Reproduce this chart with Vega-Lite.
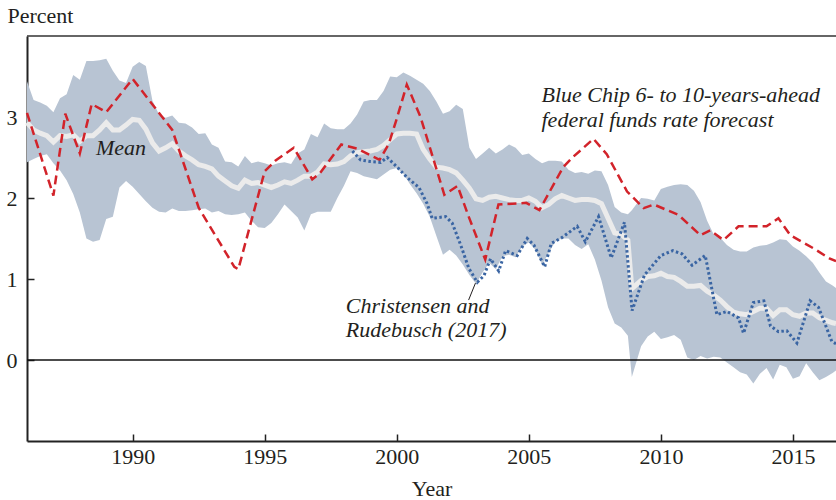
{
  "$schema": "https://vega.github.io/schema/vega-lite/v6.json",
  "width": 809,
  "height": 405,
  "autosize": {"type": "none"},
  "padding": {"left": 27, "top": 36, "right": 0, "bottom": 59},
  "config": {
    "view": {"stroke": null},
    "font": "Liberation Serif",
    "axis": {"grid": false, "zindex": 1, "ticks": true, "labelFont": "Liberation Serif", "labelFontSize": 22, "labelColor": "#231f20", "titleFont": "Liberation Serif", "titleFontSize": 22, "titleFontWeight": "normal", "titleColor": "#231f20", "domainColor": "#222222", "domainWidth": 2, "tickColor": "#222222", "tickWidth": 1.5}
  },
  "datasets": {
    "q": [
      {"t":1986.00,"hi":3.44,"lo":2.44,"m":2.93},{"t":1986.25,"hi":3.21,"lo":2.48,"m":2.84},{"t":1986.50,"hi":3.18,"lo":2.52,"m":2.80},{"t":1986.75,"hi":3.14,"lo":2.54,"m":2.77},
      {"t":1987.00,"hi":3.06,"lo":2.43,"m":2.69},{"t":1987.25,"hi":3.23,"lo":2.34,"m":2.77},{"t":1987.50,"hi":3.28,"lo":2.22,"m":2.76},{"t":1987.75,"hi":3.52,"lo":2.05,"m":2.78},
      {"t":1988.00,"hi":3.46,"lo":1.82,"m":2.70},{"t":1988.25,"hi":3.69,"lo":1.50,"m":2.77},{"t":1988.50,"hi":3.69,"lo":1.46,"m":2.77},{"t":1988.75,"hi":3.70,"lo":1.48,"m":2.84},
      {"t":1989.00,"hi":3.72,"lo":1.74,"m":2.93},{"t":1989.25,"hi":3.57,"lo":1.77,"m":2.84},{"t":1989.50,"hi":3.45,"lo":2.13,"m":2.84},{"t":1989.75,"hi":3.42,"lo":2.21,"m":2.90},
      {"t":1990.00,"hi":3.62,"lo":2.14,"m":2.97},{"t":1990.25,"hi":3.68,"lo":2.05,"m":2.96},{"t":1990.50,"hi":3.63,"lo":1.96,"m":2.85},{"t":1990.75,"hi":3.20,"lo":1.88,"m":2.68},
      {"t":1991.00,"hi":3.03,"lo":1.83,"m":2.58},{"t":1991.25,"hi":2.99,"lo":1.82,"m":2.62},{"t":1991.50,"hi":3.02,"lo":1.87,"m":2.67},{"t":1991.75,"hi":2.93,"lo":1.84,"m":2.58},
      {"t":1992.00,"hi":2.92,"lo":1.84,"m":2.52},{"t":1992.25,"hi":2.87,"lo":1.85,"m":2.47},{"t":1992.50,"hi":2.79,"lo":1.86,"m":2.41},{"t":1992.75,"hi":2.80,"lo":1.87,"m":2.39},
      {"t":1993.00,"hi":2.66,"lo":1.82,"m":2.36},{"t":1993.25,"hi":2.62,"lo":1.84,"m":2.27},{"t":1993.50,"hi":2.45,"lo":1.80,"m":2.21},{"t":1993.75,"hi":2.44,"lo":1.79,"m":2.15},
      {"t":1994.00,"hi":2.39,"lo":1.80,"m":2.12},{"t":1994.25,"hi":2.52,"lo":1.82,"m":2.22},{"t":1994.50,"hi":2.43,"lo":1.72,"m":2.18},{"t":1994.75,"hi":2.45,"lo":1.64,"m":2.19},
      {"t":1995.00,"hi":2.43,"lo":1.63,"m":2.16},{"t":1995.25,"hi":2.40,"lo":1.69,"m":2.13},{"t":1995.50,"hi":2.43,"lo":1.80,"m":2.16},{"t":1995.75,"hi":2.44,"lo":1.92,"m":2.20},
      {"t":1996.00,"hi":2.42,"lo":1.84,"m":2.18},{"t":1996.25,"hi":2.55,"lo":1.76,"m":2.22},{"t":1996.50,"hi":2.60,"lo":1.60,"m":2.27},{"t":1996.75,"hi":2.79,"lo":1.80,"m":2.27},
      {"t":1997.00,"hi":2.75,"lo":1.83,"m":2.32},{"t":1997.25,"hi":2.92,"lo":1.83,"m":2.42},{"t":1997.50,"hi":2.86,"lo":1.83,"m":2.41},{"t":1997.75,"hi":2.85,"lo":2.00,"m":2.42},
      {"t":1998.00,"hi":2.85,"lo":2.15,"m":2.45},{"t":1998.25,"hi":2.92,"lo":2.33,"m":2.52},{"t":1998.50,"hi":3.03,"lo":2.31,"m":2.56},{"t":1998.75,"hi":3.19,"lo":2.27,"m":2.57},
      {"t":1999.00,"hi":3.21,"lo":2.25,"m":2.58},{"t":1999.25,"hi":3.21,"lo":2.23,"m":2.60},{"t":1999.50,"hi":3.32,"lo":2.29,"m":2.65},{"t":1999.75,"hi":3.50,"lo":2.35,"m":2.72},
      {"t":2000.00,"hi":3.49,"lo":2.37,"m":2.79},{"t":2000.25,"hi":3.55,"lo":2.30,"m":2.80},{"t":2000.50,"hi":3.51,"lo":2.17,"m":2.80},{"t":2000.75,"hi":3.46,"lo":2.06,"m":2.79},
      {"t":2001.00,"hi":3.41,"lo":1.93,"m":2.60},{"t":2001.25,"hi":3.32,"lo":1.77,"m":2.48},{"t":2001.50,"hi":3.19,"lo":1.53,"m":2.38},{"t":2001.75,"hi":3.04,"lo":1.30,"m":2.37},
      {"t":2002.00,"hi":3.07,"lo":1.36,"m":2.35},{"t":2002.25,"hi":3.15,"lo":1.29,"m":2.31},{"t":2002.50,"hi":3.10,"lo":1.18,"m":2.22},{"t":2002.75,"hi":2.62,"lo":1.05,"m":2.12},
      {"t":2003.00,"hi":2.48,"lo":0.94,"m":1.99},{"t":2003.25,"hi":2.55,"lo":1.08,"m":1.97},{"t":2003.50,"hi":2.62,"lo":1.20,"m":2.01},{"t":2003.75,"hi":2.55,"lo":1.12,"m":2.02},
      {"t":2004.00,"hi":2.60,"lo":1.28,"m":2.00},{"t":2004.25,"hi":2.66,"lo":1.30,"m":1.98},{"t":2004.50,"hi":2.62,"lo":1.27,"m":1.97},{"t":2004.75,"hi":2.53,"lo":1.40,"m":1.97},
      {"t":2005.00,"hi":2.55,"lo":1.45,"m":2.00},{"t":2005.25,"hi":2.48,"lo":1.36,"m":1.96},{"t":2005.50,"hi":2.43,"lo":1.18,"m":1.88},{"t":2005.75,"hi":2.46,"lo":1.32,"m":1.92},
      {"t":2006.00,"hi":2.46,"lo":1.46,"m":1.99},{"t":2006.25,"hi":2.45,"lo":1.50,"m":2.03},{"t":2006.50,"hi":2.35,"lo":1.50,"m":2.00},{"t":2006.75,"hi":2.31,"lo":1.42,"m":1.97},
      {"t":2007.00,"hi":2.32,"lo":1.37,"m":1.98},{"t":2007.25,"hi":2.30,"lo":1.43,"m":1.98},{"t":2007.50,"hi":2.34,"lo":1.24,"m":1.97},{"t":2007.75,"hi":2.33,"lo":0.98,"m":1.93},
      {"t":2008.00,"hi":2.16,"lo":0.65,"m":1.75},{"t":2008.25,"hi":1.89,"lo":0.45,"m":1.57},{"t":2008.50,"hi":1.82,"lo":0.40,"m":1.55},{"t":2008.75,"hi":1.80,"lo":0.30,"m":1.48},
      {"t":2008.90,"hi":1.85,"lo":-0.21,"m":0.88},{"t":2009.25,"hi":2.00,"lo":0.17,"m":0.98},{"t":2009.50,"hi":1.99,"lo":0.29,"m":1.03},{"t":2009.75,"hi":1.97,"lo":0.35,"m":1.04},
      {"t":2010.00,"hi":2.11,"lo":0.26,"m":1.07},{"t":2010.25,"hi":2.14,"lo":0.28,"m":1.03},{"t":2010.50,"hi":2.16,"lo":0.31,"m":1.02},{"t":2010.75,"hi":2.17,"lo":0.25,"m":0.97},
      {"t":2011.00,"hi":2.16,"lo":0.03,"m":0.91},{"t":2011.25,"hi":2.09,"lo":0.00,"m":0.91},{"t":2011.50,"hi":1.95,"lo":0.05,"m":0.92},{"t":2011.75,"hi":1.72,"lo":0.02,"m":0.85},
      {"t":2012.00,"hi":1.55,"lo":0.04,"m":0.80},{"t":2012.25,"hi":1.51,"lo":0.03,"m":0.74},{"t":2012.50,"hi":1.42,"lo":-0.03,"m":0.66},{"t":2012.75,"hi":1.36,"lo":-0.09,"m":0.59},
      {"t":2013.00,"hi":1.34,"lo":-0.15,"m":0.57},{"t":2013.25,"hi":1.34,"lo":-0.18,"m":0.56},{"t":2013.50,"hi":1.39,"lo":-0.29,"m":0.60},{"t":2013.75,"hi":1.41,"lo":-0.17,"m":0.64},
      {"t":2014.00,"hi":1.42,"lo":-0.10,"m":0.64},{"t":2014.25,"hi":1.45,"lo":-0.24,"m":0.55},{"t":2014.50,"hi":1.49,"lo":-0.06,"m":0.62},{"t":2014.75,"hi":1.48,"lo":-0.09,"m":0.62},
      {"t":2015.00,"hi":1.40,"lo":-0.23,"m":0.56},{"t":2015.25,"hi":1.35,"lo":-0.20,"m":0.54},{"t":2015.50,"hi":1.28,"lo":-0.04,"m":0.58},{"t":2015.75,"hi":1.20,"lo":-0.15,"m":0.58},
      {"t":2016.00,"hi":1.08,"lo":-0.25,"m":0.52},{"t":2016.25,"hi":0.97,"lo":-0.21,"m":0.49},{"t":2016.50,"hi":0.92,"lo":-0.16,"m":0.46},{"t":2016.63,"hi":0.89,"lo":-0.13,"m":0.45}
    ],
    "bc": [
      {"t":1986.0,"v":3.05},{"t":1987.0,"v":2.03},{"t":1987.45,"v":3.04},{"t":1988.0,"v":2.55},{"t":1988.45,"v":3.16},{"t":1989.0,"v":3.06},
      {"t":1990.0,"v":3.47},{"t":1991.5,"v":2.84},{"t":1992.5,"v":1.88},{"t":1993.85,"v":1.15},{"t":1994.0,"v":1.12},{"t":1995.0,"v":2.33},
      {"t":1995.4,"v":2.46},{"t":1996.1,"v":2.62},{"t":1996.8,"v":2.23},{"t":1997.1,"v":2.31},{"t":1997.9,"v":2.66},{"t":1998.5,"v":2.61},
      {"t":1999.35,"v":2.47},{"t":1999.7,"v":2.67},{"t":2000.0,"v":2.98},{"t":2000.38,"v":3.40},{"t":2000.9,"v":3.0},{"t":2001.8,"v":2.04},
      {"t":2002.3,"v":2.15},{"t":2002.7,"v":1.79},{"t":2003.35,"v":1.24},{"t":2003.85,"v":1.92},{"t":2004.9,"v":1.94},{"t":2005.4,"v":1.85},
      {"t":2006.3,"v":2.38},{"t":2006.65,"v":2.5},{"t":2007.45,"v":2.73},{"t":2007.95,"v":2.54},{"t":2008.72,"v":2.08},{"t":2009.35,"v":1.875},
      {"t":2009.73,"v":1.92},{"t":2010.67,"v":1.79},{"t":2011.5,"v":1.54},{"t":2011.87,"v":1.6},{"t":2012.37,"v":1.48},{"t":2012.94,"v":1.65},
      {"t":2014.0,"v":1.65},{"t":2014.45,"v":1.75},{"t":2014.9,"v":1.54},{"t":2015.8,"v":1.375},{"t":2016.4,"v":1.25},{"t":2016.63,"v":1.22}
    ],
    "cr": [
      {"t":1998.32,"v":2.58},{"t":1998.63,"v":2.47},{"t":1999.0,"v":2.45},{"t":1999.39,"v":2.44},{"t":1999.64,"v":2.5},{"t":2000.02,"v":2.38},
      {"t":2000.4,"v":2.25},{"t":2000.84,"v":2.13},{"t":2001.15,"v":1.93},{"t":2001.34,"v":1.75},{"t":2001.85,"v":1.77},{"t":2002.1,"v":1.69},
      {"t":2002.42,"v":1.42},{"t":2002.73,"v":1.13},{"t":2003.05,"v":0.96},{"t":2003.3,"v":1.04},{"t":2003.55,"v":1.25},{"t":2003.86,"v":1.1},
      {"t":2004.12,"v":1.35},{"t":2004.56,"v":1.29},{"t":2004.94,"v":1.5},{"t":2005.19,"v":1.42},{"t":2005.6,"v":1.15},{"t":2005.85,"v":1.44},
      {"t":2006.25,"v":1.51},{"t":2006.83,"v":1.65},{"t":2007.14,"v":1.46},{"t":2007.64,"v":1.77},{"t":2008.12,"v":1.26},{"t":2008.62,"v":1.7},
      {"t":2008.91,"v":0.61},{"t":2009.38,"v":1.05},{"t":2010.0,"v":1.29},{"t":2010.45,"v":1.35},{"t":2010.8,"v":1.31},{"t":2011.18,"v":1.17},
      {"t":2011.68,"v":1.29},{"t":2012.12,"v":0.56},{"t":2012.5,"v":0.6},{"t":2012.94,"v":0.52},{"t":2013.13,"v":0.33},{"t":2013.5,"v":0.71},
      {"t":2013.9,"v":0.73},{"t":2014.15,"v":0.42},{"t":2014.45,"v":0.35},{"t":2014.77,"v":0.36},{"t":2015.15,"v":0.21},{"t":2015.65,"v":0.73},
      {"t":2015.97,"v":0.65},{"t":2016.47,"v":0.23},{"t":2016.63,"v":0.2}
    ],
    "labels": [
      {"t":1988.61,"v":2.525,"label":"Mean"},
      {"t":2005.48,"v":3.19,"label":"Blue Chip 6- to 10-years-ahead"},
      {"t":2005.48,"v":2.88,"label":"federal funds rate forecast"},
      {"t":1998.07,"v":0.575,"label":"Christensen and"},
      {"t":1998.07,"v":0.29,"label":"Rudebusch (2017)"}
    ],
    "leader": [{"t":2002.72,"v":0.74,"t2":2002.98,"v2":0.95}],
    "refs": [{"v":0,"kind":"zero"},{"v":4,"kind":"top"}]
  },
  "layer": [
    {
      "data": {"name": "q"},
      "mark": {"type": "area", "color": "#b8c4d3", "opacity": 1},
      "encoding": {
        "x": {"field": "t", "type": "quantitative", "scale": {"domain": [1986, 2016.63], "nice": false, "zero": false},
              "axis": {"values": [1990, 1995, 2000, 2005, 2010, 2015], "format": "d", "tickSize": -7, "labelPadding": 12, "title": "Year", "titleY": 54, "titleBaseline": "alphabetic"}},
        "y": {"field": "lo", "type": "quantitative", "scale": {"domain": [-1, 4], "nice": false, "zero": false},
              "axis": {"values": [0, 1, 2, 3], "format": "d", "tickSize": -7, "labelPadding": 17, "title": "Percent", "titleAngle": 0, "titleAlign": "left", "titleX": -20, "titleY": -14, "titleBaseline": "alphabetic"}},
        "y2": {"field": "hi"}
      }
    },
    {
      "data": {"name": "q"},
      "mark": {"type": "line", "color": "#ebebeb", "strokeWidth": 5},
      "encoding": {
        "x": {"field": "t", "type": "quantitative"},
        "y": {"field": "m", "type": "quantitative"}
      }
    },
    {
      "data": {"name": "refs"},
      "mark": {"type": "rule", "strokeWidth": 1.5},
      "encoding": {
        "y": {"field": "v", "type": "quantitative"},
        "color": {"field": "kind", "type": "nominal", "scale": {"domain": ["zero", "top"], "range": ["#111111", "#333333"]}, "legend": null}
      }
    },
    {
      "data": {"name": "bc"},
      "mark": {"type": "line", "color": "#d2232a", "strokeWidth": 2.5, "strokeDash": [9, 5]},
      "encoding": {
        "x": {"field": "t", "type": "quantitative"},
        "y": {"field": "v", "type": "quantitative"}
      }
    },
    {
      "data": {"name": "cr"},
      "mark": {"type": "line", "color": "#3a65a3", "strokeWidth": 3, "strokeDash": [2.5, 2.5]},
      "encoding": {
        "x": {"field": "t", "type": "quantitative"},
        "y": {"field": "v", "type": "quantitative"}
      }
    },
    {
      "data": {"name": "leader"},
      "mark": {"type": "rule", "color": "#231f20", "strokeWidth": 1},
      "encoding": {
        "x": {"field": "t", "type": "quantitative"},
        "y": {"field": "v", "type": "quantitative"},
        "x2": {"field": "t2"},
        "y2": {"field": "v2"}
      }
    },
    {
      "data": {"name": "labels"},
      "mark": {"type": "text", "align": "left", "baseline": "alphabetic", "font": "Liberation Serif", "fontStyle": "italic", "fontSize": 22, "color": "#231f20"},
      "encoding": {
        "x": {"field": "t", "type": "quantitative"},
        "y": {"field": "v", "type": "quantitative"},
        "text": {"field": "label"}
      }
    }
  ]
}
